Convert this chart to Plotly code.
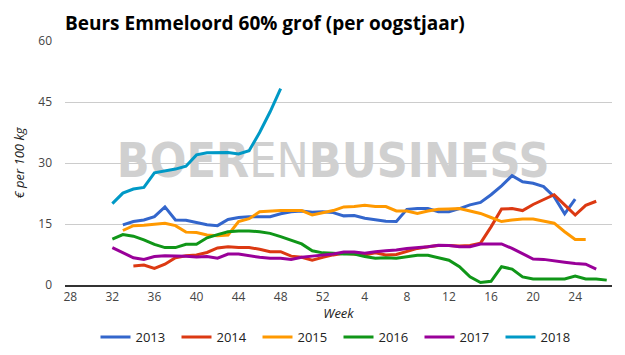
import plotly.graph_objects as go

# Weeks of the harvest year (week 28 .. week 27 of next year)
weeks = [str(w) for w in list(range(28, 53)) + list(range(1, 28))]
tick_weeks = ["28", "32", "36", "40", "44", "48", "52", "4", "8", "12", "16", "20", "24"]

start_2013 = "33"
vals_2013 = [14.8, 15.6, 16.0, 16.8, 19.2, 16.0, 15.9, 15.3, 14.8, 14.6, 16.1, 16.6, 16.8,
             16.8, 16.8, 17.5, 18.0, 18.2, 17.9, 18.0, 17.8, 17.0, 17.1, 16.4, 16.0, 15.7,
             15.6, 18.6, 18.8, 18.8, 18.0, 18.0, 18.8, 19.7, 20.3, 22.2, 24.4, 26.9, 25.4,
             25.0, 24.2, 21.7, 17.5, 21.1]

start_2014 = "34"
vals_2014 = [4.7, 4.9, 4.1, 5.1, 6.7, 7.2, 7.4, 8.0, 9.1, 9.4, 9.2, 9.2, 8.8, 8.2, 8.2,
             7.1, 6.8, 6.1, 6.8, 7.4, 7.8, 7.6, 7.4, 7.9, 7.4, 7.5, 8.2, 9.0, 9.4, 9.7,
             9.7, 9.6, 9.7, 10.3, 14.3, 18.7, 18.8, 18.3, 19.8, 21.0, 22.2, 19.7, 17.2,
             19.6, 20.6]

start_2015 = "33"
vals_2015 = [13.4, 14.6, 14.7, 14.9, 15.2, 14.6, 13.0, 12.9, 12.3, 12.1, 12.3, 15.6, 16.3,
             18.0, 18.2, 18.3, 18.3, 18.3, 17.2, 17.8, 18.3, 19.2, 19.3, 19.6, 19.3, 19.3,
             18.2, 18.2, 17.6, 18.2, 18.6, 18.7, 18.8, 18.2, 17.6, 16.6, 15.6, 16.0, 16.2,
             16.2, 15.7, 15.2, 13.1, 11.2, 11.2]

start_2016 = "32"
vals_2016 = [11.3, 12.4, 12.0, 11.1, 10.0, 9.2, 9.2, 10.0, 10.0, 11.6, 12.4, 13.1, 13.3,
             13.3, 13.1, 12.7, 11.9, 10.9, 10.1, 8.4, 7.9, 7.8, 7.6, 7.6, 7.0, 6.6, 6.7,
             6.6, 7.0, 7.3, 7.3, 6.7, 6.1, 4.5, 2.0, 0.6, 0.9, 4.5, 3.9, 2.0, 1.5, 1.5,
             1.5, 1.5, 2.2, 1.5, 1.5, 1.2]

start_2017 = "32"
vals_2017 = [9.2, 8.0, 6.7, 6.3, 7.0, 7.2, 7.2, 7.1, 6.9, 7.0, 6.6, 7.6, 7.6, 7.2, 6.8,
             6.6, 6.6, 6.3, 6.8, 7.1, 7.4, 7.6, 8.1, 8.1, 7.8, 8.2, 8.4, 8.6, 9.0, 9.2,
             9.4, 9.8, 9.7, 9.4, 9.4, 10.1, 10.1, 10.1, 9.0, 7.8, 6.4, 6.3, 5.9, 5.6, 5.3,
             5.1, 3.9]

start_2018 = "32"
vals_2018 = [20.0, 22.6, 23.6, 24.0, 27.6, 28.1, 28.5, 29.2, 32.0, 32.5, 32.6, 32.6, 32.2,
             33.0, 37.5, 42.6, 48.3]

series = [
    ("2013", start_2013, vals_2013, "#3366cc"),
    ("2014", start_2014, vals_2014, "#dc3912"),
    ("2015", start_2015, vals_2015, "#ff9900"),
    ("2016", start_2016, vals_2016, "#109618"),
    ("2017", start_2017, vals_2017, "#990099"),
    ("2018", start_2018, vals_2018, "#0099c6"),
]

FONT = "Open Sans"

fig = go.Figure()

# watermark (drawn first so it lies underneath the lines)
fig.add_trace(go.Scatter(
    x=["1"], y=[29.4], mode="text",
    text=["<b>BOER</b>EN<b>BUSINESS</b>"],
    textfont=dict(family="DejaVu Sans Condensed, Liberation Sans, Arial, sans-serif",
                  size=48, color="#d0d0d0"),
    textposition="middle center",
    showlegend=False, hoverinfo="skip",
))

for name, start, vals, color in series:
    i0 = weeks.index(start)
    fig.add_trace(go.Scatter(
        x=weeks[i0:i0 + len(vals)], y=vals, mode="lines", name=name,
        line=dict(color=color, width=3),
    ))

fig.update_layout(
    width=625, height=355,
    margin=dict(l=65, r=13, t=41, b=70, autoexpand=False),
    paper_bgcolor="white", plot_bgcolor="white",
    font=dict(family=FONT, size=12, color="#444"),
    title=dict(text="<b>Beurs Emmeloord 60% grof (per oogstjaar)</b>",
               x=0, xref="paper", xanchor="left", y=0.935, yanchor="middle",
               font=dict(family=FONT, size=19, color="#000")),
    showlegend=True,
    legend=dict(orientation="h", x=0.5, xanchor="center",
                yref="container", y=18 / 355, yanchor="middle",
                font=dict(family=FONT, size=13, color="#222"),
                entrywidth=36, entrywidthmode="pixels", itemwidth=30),
)

fig.update_xaxes(
    type="category", categoryorder="array", categoryarray=weeks,
    range=[-0.5, len(weeks) - 0.5], automargin=False,
    tickmode="array", tickvals=tick_weeks, ticktext=tick_weeks,
    showgrid=False, showline=True, linecolor="#333", linewidth=1.5,
    ticks="", tickfont=dict(size=12, color="#444"),
    title=dict(text="<i>Week</i>", font=dict(size=13, color="#222"), standoff=16),
)
fig.update_yaxes(
    range=[0, 60], tickvals=[0, 15, 30, 45, 60], automargin=False,
    showgrid=True, gridcolor="#cccccc", gridwidth=1, zeroline=False,
    showline=False, ticks="", ticklabelstandoff=12,
    tickfont=dict(size=12, color="#444"),
    title=dict(text="<i>€ per 100 kg</i>", font=dict(size=13, color="#222"), standoff=10),
)

fig.write_html("out.html")
